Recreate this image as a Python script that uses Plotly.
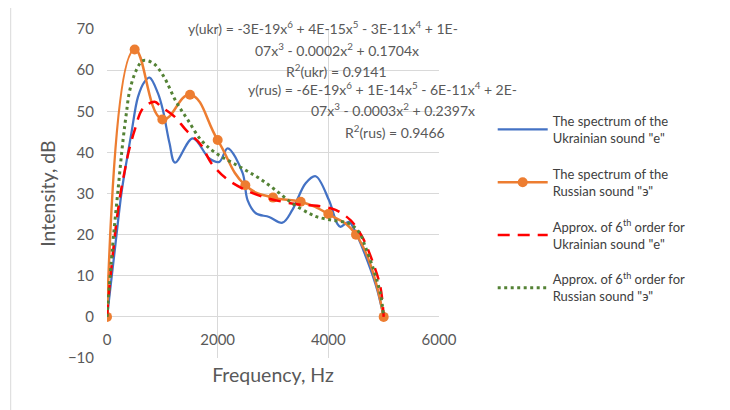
import plotly.graph_objects as go

# ---- data ----
rus_freq = [0, 500, 1000, 1500, 2000, 2500, 3000, 3500, 4000, 4500, 5000]
rus_int = [0, 65, 48, 54, 43, 32, 29, 28, 25, 20, 0]

ukr_freq = [0, 130, 260, 330, 440, 560, 680, 770, 920, 1010, 1130, 1230, 1550, 1850,
            2030, 2180, 2450, 2540, 2690, 2930, 3170, 3350, 3590, 3770, 4010, 4160,
            4220, 4370, 4460, 4850, 5000]
ukr_int = [0, 15, 30, 36, 44.6, 53.5, 57.2, 58.2, 54.4, 50.3, 42.2, 37.5, 43.4, 38.5,
           37.7, 41, 35, 28.4, 25.2, 24.3, 22.9, 26, 32.5, 34.2, 28.4, 22.7,
           21.9, 23.1, 21.5, 8.1, 0]

ukr_fit_freq = [0, 50, 170, 250, 320, 380, 500, 650, 860, 980, 1220, 1430, 1700, 1880,
                2150, 2450, 2810, 3170, 3530, 3800, 4130, 4400, 4610, 4790, 4940, 5000]
ukr_fit_int = [0, 8, 23, 30.5, 35.5, 39.5, 45.4, 50.7, 52.3, 51.1, 48.7, 45.4, 41.8, 37.5,
               33.7, 31.2, 29.2, 28, 27.2, 27, 26, 23.5, 19.5, 13.8, 7.3, 0]

rus_fit_freq = [0, 100, 200, 290, 350, 410, 530, 650, 830, 1010, 1250, 1460, 1700, 1950,
                2450, 2750, 3050, 3350, 3650, 3800, 4070, 4370, 4550, 4670, 4820, 4940, 5000]
rus_fit_int = [0, 17, 31, 43, 49.5, 55, 60, 62.3, 61.7, 58.8, 52.3, 47.9, 43, 40,
               36.1, 33.7, 30.8, 27.6, 25.2, 24.3, 23.5, 22.7, 20.7, 17, 11.4, 5.7, 0]

names = ['The spectrum of the<br>Ukrainian sound "е"',
         'The spectrum of the<br>Russian sound "э"',
         'Approx. of 6<sup>th</sup> order for<br>Ukrainian sound "е"',
         'Approx. of 6<sup>th</sup> order for<br>Russian sound "э"']

eq_lines = ['y(ukr) = -3E-19x<sup>6</sup> + 4E-15x<sup>5</sup> - 3E-11x<sup>4</sup> + 1E-',
            '07x<sup>3</sup> - 0.0002x<sup>2</sup> + 0.1704x',
            'R<sup>2</sup>(ukr) = 0.9141',
            'y(rus) = -6E-19x<sup>6</sup> + 1E-14x<sup>5</sup> - 6E-11x<sup>4</sup> + 2E-',
            '07x<sup>3</sup> - 0.0003x<sup>2</sup> + 0.2397x',
            'R<sup>2</sup>(rus) = 0.9466']

FONT = "Lato, 'Open Sans', sans-serif"
GRID = '#D9D9D9'
TXT = '#595959'

# page body has an 8px margin, so the figure is shifted by 8px
OFF = 8
PL, PT, PW, PH = 107.3, 29, 332, 329          # plot area in window pixels
W, H = 730 - OFF, 410 - OFF
L = PL - OFF
T = PT - OFF
R = W - L - PW
B = H - T - PH


def px_x(p):
    return (p - PL) / PW


def px_y(p):
    return (PT + PH - p) / PH


fig = go.Figure()
fig.add_trace(go.Scatter(x=ukr_freq, y=ukr_int, mode='lines', name=names[0],
                         line=dict(color='#4472C4', width=2.25, shape='spline', smoothing=1),
                         legendgroup='a'))
fig.add_trace(go.Scatter(x=rus_freq, y=rus_int, mode='lines+markers', name=names[1],
                         line=dict(color='#ED7D31', width=2.5, shape='spline', smoothing=1.3),
                         marker=dict(color='#ED7D31', size=10, symbol='circle'),
                         legendgroup='b'))
fig.add_trace(go.Scatter(x=ukr_fit_freq, y=ukr_fit_int, mode='lines', name=names[2],
                         line=dict(color='#FF0000', width=2.5, dash='12px,8px', shape='spline', smoothing=1),
                         legendgroup='c'))
fig.add_trace(go.Scatter(x=rus_fit_freq, y=rus_fit_int, mode='lines', name=names[3],
                         line=dict(color='#548235', width=3, dash='3px,3.5px', shape='spline', smoothing=1),
                         legendgroup='d'))

for t, cx, cy in zip(eq_lines, [323, 337, 337, 383, 393, 395], [28, 50, 70, 88, 109, 131]):
    fig.add_annotation(text=t, x=px_x(cx), y=px_y(cy), xref='paper', yref='paper',
                       xanchor='center', yanchor='middle', showarrow=False,
                       font=dict(family=FONT, size=14, color=TXT))

fig.add_shape(type='rect', xref='paper', yref='paper',
              x0=px_x(11), x1=3, y0=-2, y1=px_y(7),
              line=dict(color=GRID, width=1), layer='below')

fig.update_layout(
    width=W, height=H,
    margin=dict(l=L, r=R, t=T, b=B, autoexpand=False),
    paper_bgcolor='white', plot_bgcolor='white',
    font=dict(family=FONT, color=TXT),
    showlegend=True,
    legend=dict(x=px_x(493), y=px_y(106), xanchor='left', yanchor='top',
                font=dict(family=FONT, size=13, color='#404040'),
                itemwidth=50, tracegroupgap=16, traceorder='grouped',
                bgcolor='rgba(0,0,0,0)'),
    xaxis=dict(range=[0, 6000], dtick=2000, tick0=0, showgrid=True, gridcolor=GRID,
               gridwidth=1, zeroline=False, showline=False, anchor='free',
               position=px_y(316.7), ticks='', ticklabelstandoff=12,
               tickfont=dict(family=FONT, size=15, color=TXT),
               title=dict(text='Frequency, Hz', font=dict(family=FONT, size=19.5, color=TXT),
                          standoff=21)),
    yaxis=dict(range=[-10, 70], dtick=10, tick0=0, showgrid=True, gridcolor=GRID,
               gridwidth=1, zeroline=False, showline=False, ticks='',
               ticklabelstandoff=12,
               tickfont=dict(family=FONT, size=15, color=TXT),
               title=dict(text='Intensity, dB', font=dict(family=FONT, size=19.5, color=TXT),
                          standoff=7)),
)

fig.write_html('out.html')
